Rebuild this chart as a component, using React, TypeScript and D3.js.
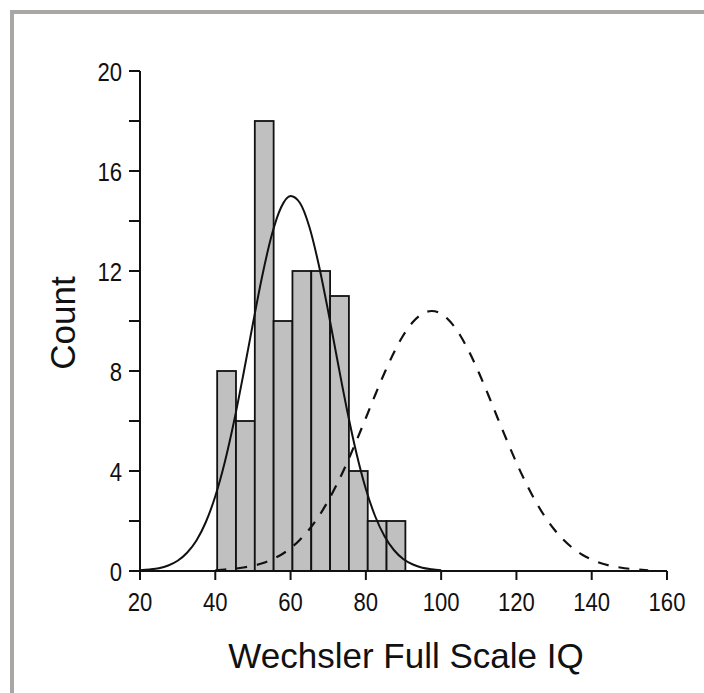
import React from "react";
import * as d3 from "d3";

// Histogram bins (edges) and counts
const binEdges = [40.5, 45.5, 50.5, 55.5, 60.5, 65.5, 70.5, 75.5, 80.5, 85.5, 90.5];
const counts = [8, 6, 18, 10, 12, 12, 11, 4, 2, 2];

// Solid curve (fit to sample)
const solidX = [20, 22.5, 25, 27.5, 30, 32.5, 35, 37.5, 40, 42.5, 45, 47.5, 50, 52.5, 55, 57.5, 60, 62.5, 65, 67.5, 70, 72.5, 75, 77.5, 80, 82.5, 85, 87.5, 90, 92.5, 95, 97.5, 100];
const solidY = [0.03, 0.06, 0.11, 0.22, 0.41, 0.73, 1.22, 1.96, 2.99, 4.34, 6.0, 7.9, 9.9, 11.82, 13.44, 14.55, 15.0, 14.72, 13.76, 12.24, 10.38, 8.38, 6.44, 4.71, 3.28, 2.18, 1.38, 0.83, 0.47, 0.26, 0.13, 0.07, 0.03];

// Dashed curve (reference population)
const dashedX = [40, 42.5, 45, 47.5, 50, 52.5, 55, 57.5, 60, 62.5, 65, 67.5, 70, 72.5, 75, 77.5, 80, 82.5, 85, 87.5, 90, 92.5, 95, 97.5, 100, 102.5, 105, 107.5, 110, 112.5, 115, 117.5, 120, 122.5, 125, 127.5, 130, 132.5, 135, 137.5, 140, 142.5, 145, 147.5, 150, 152.5, 155];
const dashedY = [0.03, 0.06, 0.09, 0.14, 0.21, 0.31, 0.46, 0.65, 0.91, 1.25, 1.67, 2.19, 2.81, 3.53, 4.33, 5.21, 6.12, 7.05, 7.94, 8.75, 9.44, 9.96, 10.29, 10.4, 10.29, 9.96, 9.44, 8.75, 7.94, 7.05, 6.12, 5.21, 4.33, 3.53, 2.81, 2.19, 1.67, 1.25, 0.91, 0.65, 0.46, 0.31, 0.21, 0.14, 0.09, 0.06, 0.03];

const xTicks = [20, 40, 60, 80, 100, 120, 140, 160];
const yTicks = [0, 4, 8, 12, 16, 20];
const yMinorTicks = [2, 6, 10, 14, 18];

const xLabel = "Wechsler Full Scale IQ";
const yLabel = "Count";

export default function App() {
  const W = 704;
  const H = 693;
  const x = d3.scaleLinear().domain([20, 160]).range([140, 667]);
  const y = d3.scaleLinear().domain([0, 20]).range([571, 71]);

  const solidLine = d3
    .line<number>()
    .x((d, i) => x(solidX[i]))
    .y((d) => y(d))
    .curve(d3.curveMonotoneX);
  const dashedLine = d3
    .line<number>()
    .x((d, i) => x(dashedX[i]))
    .y((d) => y(d))
    .curve(d3.curveMonotoneX);

  const font = "'Liberation Sans', Arial, Helvetica, sans-serif";
  const tickFont = 26;
  const cond = 0.85;

  return (
    <svg
      width={W}
      height={H}
      style={{ position: "absolute", left: 0, top: 0, background: "#fff" }}
      fontFamily={font}
    >
      <rect x={0} y={0} width={W} height={H} fill="#fff" />
      {/* frame */}
      <path d={`M12,${H} V12 H${W}`} fill="none" stroke="#aaa6a4" strokeWidth={4} />

      {/* bars */}
      {counts.map((c, i) => (
        <rect
          key={i}
          x={x(binEdges[i])}
          y={y(c)}
          width={x(binEdges[i + 1]) - x(binEdges[i])}
          height={y(0) - y(c)}
          fill="#c0c0c0"
          stroke="#111"
          strokeWidth={1.8}
        />
      ))}

      {/* curves */}
      <path d={solidLine(solidY) || ""} fill="none" stroke="#111" strokeWidth={2} />
      <path
        d={dashedLine(dashedY) || ""}
        fill="none"
        stroke="#111"
        strokeWidth={2.2}
        strokeDasharray="11 10"
      />

      {/* y axis */}
      <line x1={x(20)} x2={x(20)} y1={y(0)} y2={y(20)} stroke="#111" strokeWidth={2} />
      {yTicks.map((t) => (
        <g key={"yt" + t}>
          <line x1={x(20) - 11} x2={x(20)} y1={y(t)} y2={y(t)} stroke="#111" strokeWidth={2} />
          <text
            transform={`translate(${x(20) - 18},${y(t) + 9.5}) scale(${cond},1)`}
            textAnchor="end"
            fontSize={tickFont}
            fill="#111"
          >
            {t}
          </text>
        </g>
      ))}
      {yMinorTicks.map((t) => (
        <line key={"ym" + t} x1={x(20) - 11} x2={x(20)} y1={y(t)} y2={y(t)} stroke="#111" strokeWidth={2} />
      ))}

      {/* x axis */}
      <line x1={x(20)} x2={x(160)} y1={y(0)} y2={y(0)} stroke="#111" strokeWidth={2} />
      {xTicks.map((t) => (
        <g key={"xt" + t}>
          <line x1={x(t)} x2={x(t)} y1={y(0)} y2={y(0) + 9} stroke="#111" strokeWidth={2} />
          <text
            transform={`translate(${x(t)},611) scale(${cond},1)`}
            textAnchor="middle"
            fontSize={tickFont}
            fill="#111"
          >
            {t}
          </text>
        </g>
      ))}

      {/* axis titles */}
      <text x={406} y={668} textAnchor="middle" fontSize={35} fill="#111">
        {xLabel}
      </text>
      <text
        transform={`translate(75,323) rotate(-90)`}
        textAnchor="middle"
        fontSize={35}
        fill="#111"
      >
        {yLabel}
      </text>
    </svg>
  );
}
